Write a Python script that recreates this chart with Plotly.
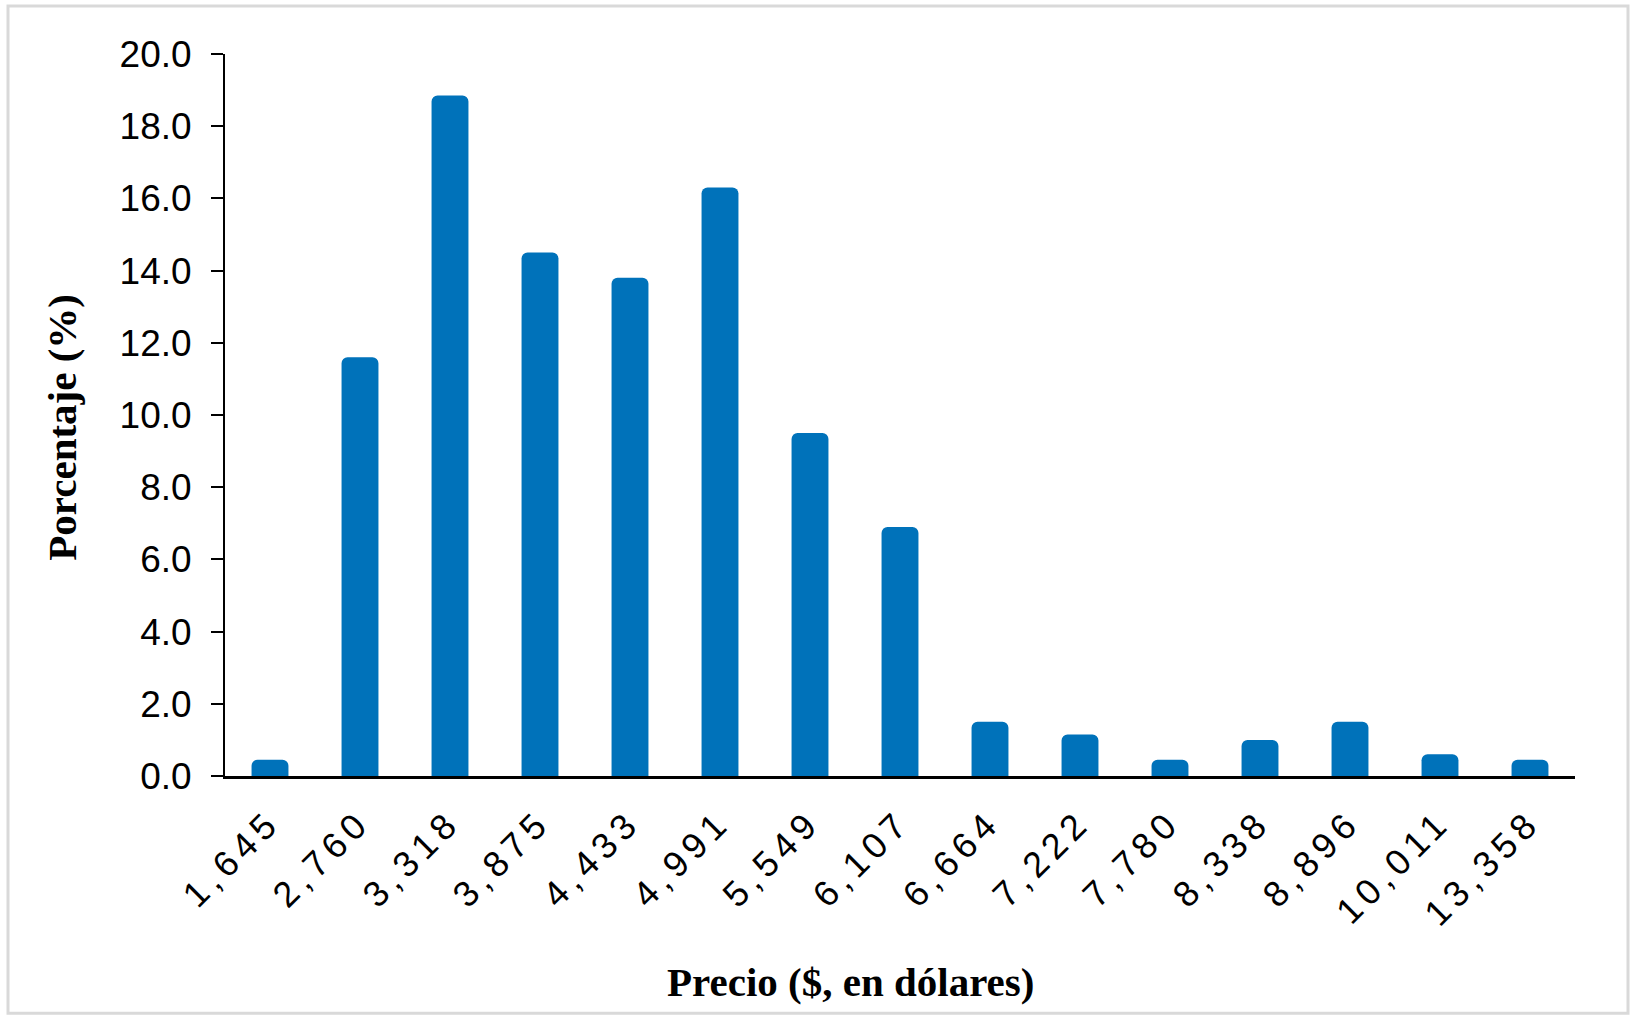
import plotly.graph_objects as go

categories = ["1,645", "2,760", "3,318", "3,875", "4,433", "4,991", "5,549", "6,107",
              "6,664", "7,222", "7,780", "8,338", "8,896", "10,011", "13,358"]
percentages = [0.45, 11.6, 18.85, 14.5, 13.8, 16.3, 9.5, 6.9,
               1.5, 1.15, 0.45, 1.0, 1.5, 0.6, 0.45]
y_ticks = [0, 2, 4, 6, 8, 10, 12, 14, 16, 18, 20]
y_tick_labels = ["0.0", "2.0", "4.0", "6.0", "8.0", "10.0", "12.0", "14.0", "16.0", "18.0", "20.0"]

W, H = 1631, 1023
L, R, T, B = 225, 56, 54, 246.5
pw, ph = W - L - R, H - T - B

def px_x(x):
    return (x - L) / pw

def px_y(y):
    return (H - B - y) / ph

fig = go.Figure(go.Bar(
    x=categories,
    y=percentages,
    marker=dict(color="#0072BA", cornerradius=6, line=dict(width=0)),
))

fig.update_layout(
    width=W, height=H,
    margin=dict(l=L, r=R, t=T, b=B, autoexpand=False),
    paper_bgcolor="white", plot_bgcolor="white",
    bargap=0.59,
    showlegend=False,
    font=dict(family="Liberation Sans, Arial", color="black"),
    xaxis=dict(
        type="category",
        showline=True, linecolor="black", linewidth=2.5,
        ticks="", tickangle=-45,
        tickfont=dict(size=36, family="Liberation Sans, Arial"),
        ticklabelstandoff=8,
        showgrid=False, zeroline=False,
    ),
    yaxis=dict(
        range=[0, 20],
        tickvals=y_ticks, ticktext=y_tick_labels,
        showline=True, linecolor="black", linewidth=2,
        ticks="outside", ticklen=12, tickwidth=2, tickcolor="black",
        tickfont=dict(size=37, family="Liberation Sans, Arial"),
        ticklabelstandoff=12,
        showgrid=False, zeroline=False,
    ),
    annotations=[
        dict(text="<b>Precio ($, en dólares)</b>", xref="paper", yref="paper",
             x=px_x(850), y=px_y(983), xanchor="center", yanchor="middle",
             showarrow=False, font=dict(family="Liberation Serif, Times New Roman", size=41, color="black")),
        dict(text="<b>Porcentaje (%)</b>", xref="paper", yref="paper",
             x=px_x(62), y=px_y(428), xanchor="center", yanchor="middle", textangle=-90,
             showarrow=False, font=dict(family="Liberation Serif, Times New Roman", size=41, color="black")),
    ],
    shapes=[
        dict(type="rect", xref="paper", yref="paper",
             x0=px_x(8), x1=px_x(1628), y0=px_y(1014), y1=px_y(6),
             line=dict(color="#d9d9d9", width=3), fillcolor="rgba(0,0,0,0)", layer="below"),
    ],
)

post = """
document.body.style.margin = '0px';
document.querySelectorAll('.xtick text').forEach(function(t){ t.setAttribute('letter-spacing', '6px'); });
"""

fig.write_html("out.html", post_script=post, config={"displayModeBar": False})
